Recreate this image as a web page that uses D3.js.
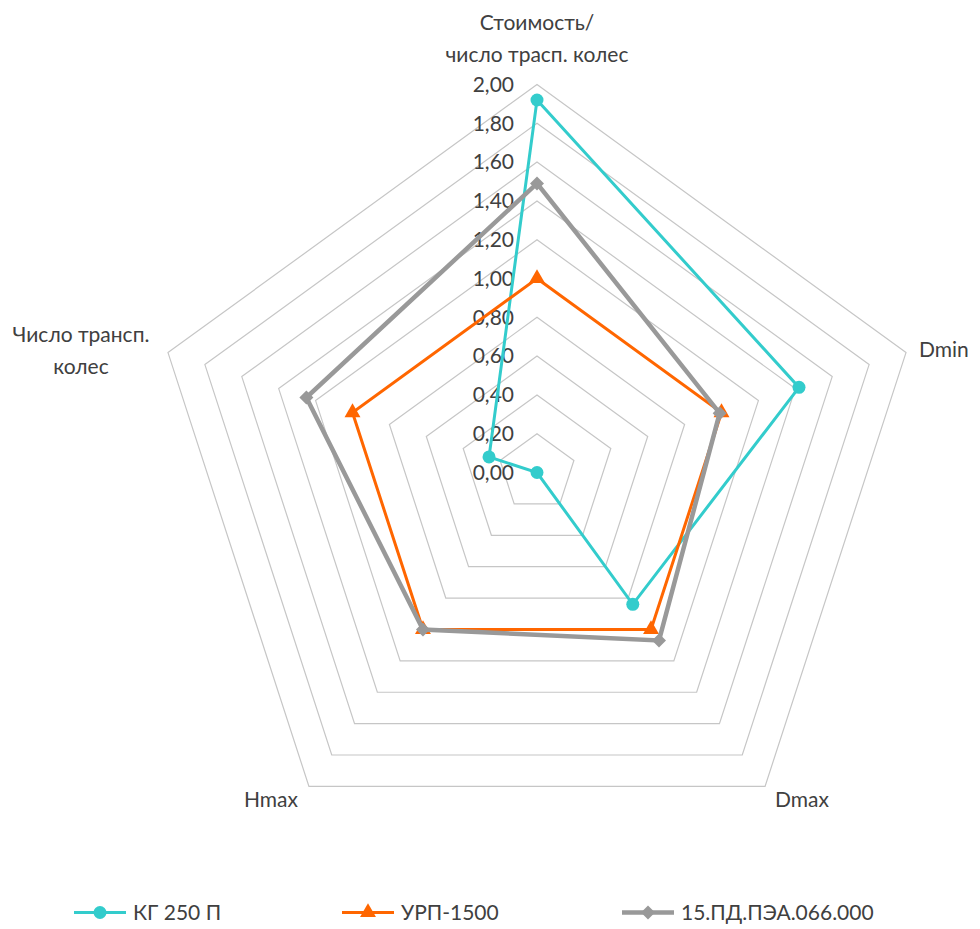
<!DOCTYPE html>
<html>
<head>
<meta charset="utf-8">
<script src="https://cdn.jsdelivr.net/npm/d3@7"></script>
<style>
  html, body { margin: 0; padding: 0; background: #fff; }
  svg text { font-family: Lato, "Open Sans", sans-serif; fill: #404040; }
</style>
</head>
<body>
<svg id="chart" width="980" height="929"></svg>
<script>
// ---- data ----
const categories = [
  ["Стоимость/", "число трасп. колес"],
  ["Dmin"],
  ["Dmax"],
  ["Hmax"],
  ["Число трансп.", "колес"]
];
const seriesNames = ["КГ 250 П", "УРП-1500", "15.ПД.ПЭА.066.000"];
const kg250 = [1.92, 1.42, 0.84, 0.00, 0.26];
const urp1500 = [1.00, 1.00, 1.00, 1.00, 1.00];
const pd15 = [1.49, 0.99, 1.07, 1.00, 1.25];
const tickValues = [0, 0.2, 0.4, 0.6, 0.8, 1.0, 1.2, 1.4, 1.6, 1.8, 2.0];

// ---- layout ----
const cx = 537, cy = 472.5, R = 388;
const colors = ["#33CCCC", "#FF6600", "#999999"];
const widths = [3, 3, 4.5];
const allSeries = [kg250, urp1500, pd15];
const FS = 21;

const svg = d3.select("#chart");
const r = d3.scaleLinear().domain([0, 2]).range([0, R]);
const n = categories.length;
const angle = d3.scalePoint().domain(d3.range(n)).range([0, 2 * Math.PI * (n - 1) / n]);
const pt = (i, v) => [cx + r(v) * Math.sin(angle(i)), cy - r(v) * Math.cos(angle(i))];

// grid rings
const ringLine = d3.line();
svg.append("g").selectAll("path")
  .data(tickValues.filter(v => v > 0))
  .join("path")
  .attr("d", v => ringLine(d3.range(n).map(i => pt(i, v))) + "Z")
  .attr("fill", "none")
  .attr("stroke", "#c6c6c6")
  .attr("stroke-width", 1.2);

// tick labels
const fmt = v => d3.format(".2f")(v).replace(".", ",");
svg.append("g").selectAll("text")
  .data(tickValues)
  .join("text")
  .attr("x", 514)
  .attr("y", v => cy - r(v))
  .attr("dy", "0.35em")
  .attr("text-anchor", "end")
  .attr("font-size", FS)
  .text(fmt);

// category labels
const labelPos = [
  {x: 537, y: 30, anchor: "middle"},
  {x: 919, y: 357, anchor: "start"},
  {x: 775, y: 807, anchor: "start"},
  {x: 298, y: 807, anchor: "end"},
  {x: 81, y: 342, anchor: "middle"}
];
const lineGap = 32;
categories.forEach((lines, i) => {
  const t = svg.append("text")
    .attr("x", labelPos[i].x)
    .attr("y", labelPos[i].y)
    .attr("text-anchor", labelPos[i].anchor)
    .attr("font-size", FS);
  lines.forEach((s, k) => {
    t.append("tspan").attr("x", labelPos[i].x).attr("dy", k === 0 ? 0 : lineGap).text(s);
  });
});

// markers
function drawMarker(g, type, x, y, color) {
  if (type === 0) {
    g.append("circle").attr("cx", x).attr("cy", y).attr("r", 6.5).attr("fill", color);
  } else if (type === 1) {
    g.append("path").attr("d", d3.symbol(d3.symbolTriangle, 110)())
      .attr("transform", `translate(${x},${y})`).attr("fill", color);
  } else {
    g.append("path").attr("d", "M0,-7L7,0L0,7L-7,0Z")
      .attr("transform", `translate(${x},${y})`).attr("fill", color);
  }
}

// series
allSeries.forEach((vals, s) => {
  const g = svg.append("g");
  const pts = vals.map((v, i) => pt(i, v));
  g.append("path")
    .attr("d", d3.line()(pts) + "Z")
    .attr("fill", "none")
    .attr("stroke", colors[s])
    .attr("stroke-width", widths[s])
    .attr("stroke-linejoin", "miter");
  pts.forEach(p => drawMarker(g, s, p[0], p[1], colors[s]));
});

// legend
const legendX = [74, 342, 622];
const legendY = 912.5;
seriesNames.forEach((name, s) => {
  const g = svg.append("g");
  g.append("line")
    .attr("x1", legendX[s]).attr("x2", legendX[s] + 52)
    .attr("y1", legendY).attr("y2", legendY)
    .attr("stroke", colors[s]).attr("stroke-width", widths[s]);
  drawMarker(g, s, legendX[s] + 26, legendY, colors[s]);
  g.append("text")
    .attr("x", legendX[s] + 59)
    .attr("y", legendY)
    .attr("dy", "0.35em")
    .attr("font-size", FS)
    .text(name);
});
</script>
</body>
</html>
